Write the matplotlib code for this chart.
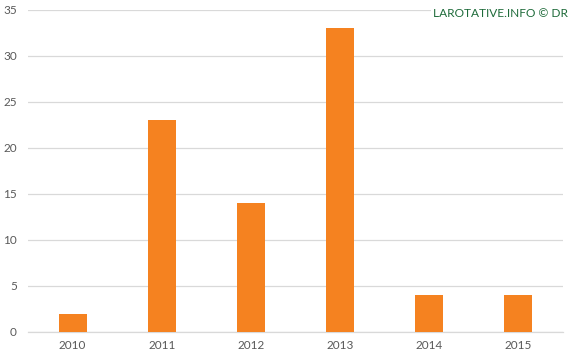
import matplotlib
matplotlib.use("Agg")
import matplotlib.pyplot as plt

years = ["2010", "2011", "2012", "2013", "2014", "2015"]
counts = [2, 23, 14, 33, 4, 4]
y_ticks = [0, 5, 10, 15, 20, 25, 30, 35]

plt.rcParams['font.family'] = ['Lato', 'DejaVu Sans']

fig = plt.figure(figsize=(5.75, 3.62), dpi=100)
ax = fig.add_axes([0.0487, 0.0829, 0.9304, 0.8895])

x = range(len(years))
ax.bar(x, counts, width=0.315, color="#F58220", zorder=3)

ax.set_xlim(-0.5, len(years) - 0.5)
ax.set_ylim(0, 35)
ax.set_yticks(y_ticks)
ax.set_xticks(list(x))
ax.set_xticklabels(years)
ax.grid(axis="y", color="#d9d9d9", linewidth=0.9, zorder=0)
ax.tick_params(length=0, labelsize=8.5, labelcolor="#595959", pad=6)
ax.tick_params(axis="y", pad=8)
for side in ["top", "right", "left"]:
    ax.spines[side].set_visible(False)
ax.spines["bottom"].set_color("#d9d9d9")
ax.spines["bottom"].set_linewidth(0.9)

fig.text(0.987, 0.962, "LAROTATIVE.INFO © DR", ha="right", va="center",
         color="#1E6B3A", fontsize=8.6,
         bbox=dict(facecolor="white", edgecolor="none", pad=1))

fig.savefig("out.png", dpi=100)
